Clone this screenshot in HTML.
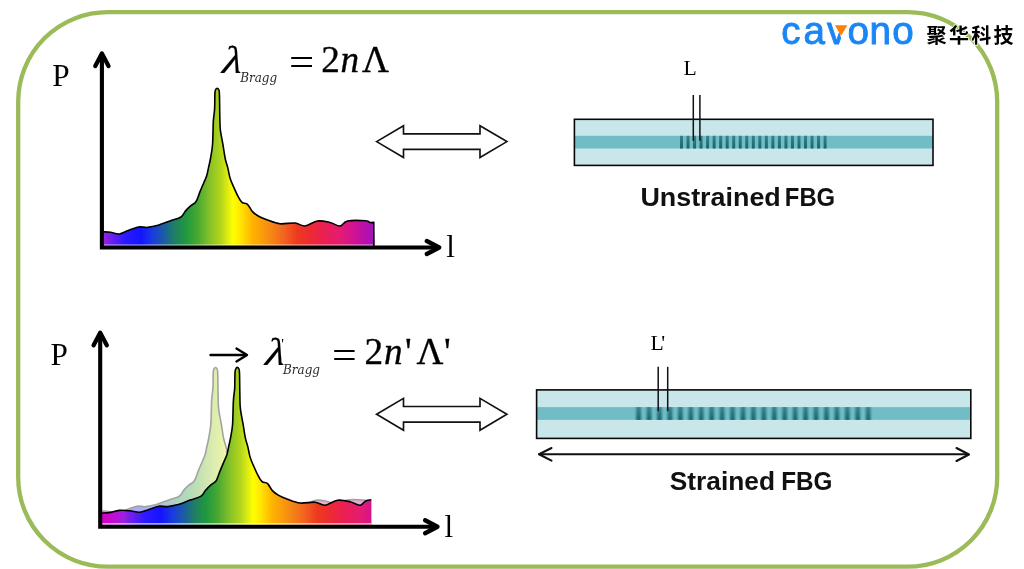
<!DOCTYPE html>
<html lang="zh">
<head>
<meta charset="utf-8">
<title>FBG strain sensing principle</title>
<style>
html,body{margin:0;padding:0;background:#fff;}
body{width:1024px;height:569px;overflow:hidden;}
svg{display:block;}
</style>
</head>
<body>
<svg width="1024" height="569" viewBox="0 0 1024 569">
<defs>
<linearGradient id="g1" gradientUnits="userSpaceOnUse" x1="103.50" y1="0" x2="374.50" y2="0"><stop offset="0.0000" stop-color="#a020e0"/><stop offset="0.0166" stop-color="#7e20e8"/><stop offset="0.0793" stop-color="#2c1aff"/><stop offset="0.1384" stop-color="#1414ff"/><stop offset="0.1790" stop-color="#1a3ae0"/><stop offset="0.2196" stop-color="#1b5aa8"/><stop offset="0.2638" stop-color="#1f8060"/><stop offset="0.3081" stop-color="#229a3c"/><stop offset="0.3487" stop-color="#4aa832"/><stop offset="0.3893" stop-color="#82c028"/><stop offset="0.4336" stop-color="#b4d61c"/><stop offset="0.4594" stop-color="#e0ee10"/><stop offset="0.4779" stop-color="#ffff00"/><stop offset="0.5037" stop-color="#ffe800"/><stop offset="0.5480" stop-color="#ffb400"/><stop offset="0.6144" stop-color="#f58a14"/><stop offset="0.6697" stop-color="#f26020"/><stop offset="0.7140" stop-color="#ee3a1f"/><stop offset="0.7694" stop-color="#ec2838"/><stop offset="0.8247" stop-color="#e91e5a"/><stop offset="0.8727" stop-color="#e41c70"/><stop offset="0.9170" stop-color="#d4148e"/><stop offset="0.9576" stop-color="#bc10a8"/><stop offset="1.0000" stop-color="#a212bc"/></linearGradient>
<linearGradient id="g2" gradientUnits="userSpaceOnUse" x1="99.80" y1="0" x2="394.55" y2="0"><stop offset="0.0000" stop-color="#d800c4"/><stop offset="0.0339" stop-color="#c808cc"/><stop offset="0.0806" stop-color="#a020e0"/><stop offset="0.0958" stop-color="#7e20e8"/><stop offset="0.1535" stop-color="#2c1aff"/><stop offset="0.2078" stop-color="#1414ff"/><stop offset="0.2451" stop-color="#1a3ae0"/><stop offset="0.2824" stop-color="#1b5aa8"/><stop offset="0.3232" stop-color="#1f8060"/><stop offset="0.3639" stop-color="#229a3c"/><stop offset="0.4012" stop-color="#4aa832"/><stop offset="0.4385" stop-color="#82c028"/><stop offset="0.4792" stop-color="#b4d61c"/><stop offset="0.5030" stop-color="#e0ee10"/><stop offset="0.5199" stop-color="#ffff00"/><stop offset="0.5437" stop-color="#ffe800"/><stop offset="0.5844" stop-color="#ffb400"/><stop offset="0.6455" stop-color="#f58a14"/><stop offset="0.6964" stop-color="#f26020"/><stop offset="0.7371" stop-color="#ee3a1f"/><stop offset="0.7880" stop-color="#ec2838"/><stop offset="0.8388" stop-color="#e91e5a"/><stop offset="0.8830" stop-color="#e41c70"/><stop offset="0.9237" stop-color="#d4148e"/><stop offset="0.9610" stop-color="#bc10a8"/><stop offset="1.0000" stop-color="#a212bc"/></linearGradient>
<linearGradient id="stripe" x1="0" y1="0" x2="0" y2="1"><stop offset="0" stop-color="#34848d"/><stop offset="1" stop-color="#1a646e"/></linearGradient>
<clipPath id="clip2"><rect x="101.80" y="300" width="269.50" height="260"/></clipPath>
<clipPath id="vclip"><polygon points="824,20 834.6,20 842.6,46 824,46"/></clipPath>
<filter id="blur" x="-5%" y="-5%" width="110%" height="110%"><feGaussianBlur stdDeviation="0.9 0"/></filter>
</defs>
<rect width="1024" height="569" fill="#fff"/>
<rect x="18.2" y="12.1" width="979.0" height="554.6" rx="89.5" ry="89.5" fill="none" stroke="#9bbb59" stroke-width="4.3"/>
<path d="M103.6 231.8 C104.8 231.9 107.9 231.9 110.5 232.3 C113.1 232.7 116.4 234.3 119.3 234.0 C122.2 233.7 124.9 231.7 128.1 230.5 C131.3 229.3 135.5 227.5 138.7 227.0 C141.9 226.5 144.3 227.7 147.5 227.4 C150.7 227.1 154.2 226.4 158.0 225.3 C161.8 224.2 166.2 222.3 170.0 220.9 C173.8 219.5 178.4 218.7 181.0 217.0 C183.6 215.3 184.2 212.4 185.8 210.6 C187.4 208.8 188.9 207.4 190.6 205.9 C192.3 204.4 194.5 203.9 196.1 201.5 C197.7 199.1 198.7 194.8 200.0 191.6 C201.3 188.4 202.9 184.8 204.0 182.2 C205.1 179.6 205.9 178.5 206.7 175.8 C207.5 173.2 208.2 169.1 208.8 166.3 C209.4 163.5 209.8 162.6 210.4 159.0 C211.0 155.4 212.0 151.2 212.5 145.0 C213.0 138.8 213.0 127.5 213.3 121.5 C213.7 115.5 214.3 113.7 214.6 109.0 C214.9 104.3 214.7 96.7 214.9 93.4 C215.1 90.1 215.4 90.3 215.8 89.4 C216.2 88.5 216.7 88.2 217.2 88.2 C217.7 88.2 218.2 88.5 218.6 89.4 C219.0 90.3 219.2 88.8 219.4 93.4 C219.6 98.0 219.7 111.0 219.8 117.0 C220.0 123.0 219.8 124.7 220.3 129.4 C220.8 134.1 222.2 140.1 223.0 145.0 C223.8 149.9 224.5 155.2 225.3 159.0 C226.1 162.8 227.0 164.7 227.8 167.9 C228.6 171.1 229.2 175.2 230.1 178.2 C231.0 181.2 232.0 183.1 233.3 186.1 C234.6 189.1 236.6 193.7 238.0 196.4 C239.4 199.1 240.4 201.1 242.0 202.4 C243.6 203.7 245.8 202.8 247.5 204.3 C249.2 205.8 250.5 209.4 252.3 211.4 C254.2 213.4 256.1 214.8 258.6 216.2 C261.1 217.6 263.9 218.7 267.5 220.0 C271.1 221.3 275.4 223.2 280.0 223.8 C284.6 224.2 290.8 222.6 295.0 223.0 C299.2 223.4 301.2 226.3 305.0 226.0 C308.8 225.7 313.3 221.6 317.5 221.0 C321.7 220.4 326.2 221.7 330.0 222.5 C333.8 223.3 337.1 226.2 340.0 226.0 C342.9 225.8 343.2 221.9 347.5 221.0 C351.8 220.1 362.2 220.5 366.0 220.8 C369.8 221.0 368.7 222.2 370.0 222.5 C371.3 222.8 373.2 222.3 373.8 222.3 L374.5 245.8 L103.6 245.8 Z" fill="url(#g1)"/>
<rect x="103.5" y="244.4" width="271" height="1.5" fill="#fff" opacity="0.55"/>
<path d="M103.6 231.8 C104.8 231.9 107.9 231.9 110.5 232.3 C113.1 232.7 116.4 234.3 119.3 234.0 C122.2 233.7 124.9 231.7 128.1 230.5 C131.3 229.3 135.5 227.5 138.7 227.0 C141.9 226.5 144.3 227.7 147.5 227.4 C150.7 227.1 154.2 226.4 158.0 225.3 C161.8 224.2 166.2 222.3 170.0 220.9 C173.8 219.5 178.4 218.7 181.0 217.0 C183.6 215.3 184.2 212.4 185.8 210.6 C187.4 208.8 188.9 207.4 190.6 205.9 C192.3 204.4 194.5 203.9 196.1 201.5 C197.7 199.1 198.7 194.8 200.0 191.6 C201.3 188.4 202.9 184.8 204.0 182.2 C205.1 179.6 205.9 178.5 206.7 175.8 C207.5 173.2 208.2 169.1 208.8 166.3 C209.4 163.5 209.8 162.6 210.4 159.0 C211.0 155.4 212.0 151.2 212.5 145.0 C213.0 138.8 213.0 127.5 213.3 121.5 C213.7 115.5 214.3 113.7 214.6 109.0 C214.9 104.3 214.7 96.7 214.9 93.4 C215.1 90.1 215.4 90.3 215.8 89.4 C216.2 88.5 216.7 88.2 217.2 88.2 C217.7 88.2 218.2 88.5 218.6 89.4 C219.0 90.3 219.2 88.8 219.4 93.4 C219.6 98.0 219.7 111.0 219.8 117.0 C220.0 123.0 219.8 124.7 220.3 129.4 C220.8 134.1 222.2 140.1 223.0 145.0 C223.8 149.9 224.5 155.2 225.3 159.0 C226.1 162.8 227.0 164.7 227.8 167.9 C228.6 171.1 229.2 175.2 230.1 178.2 C231.0 181.2 232.0 183.1 233.3 186.1 C234.6 189.1 236.6 193.7 238.0 196.4 C239.4 199.1 240.4 201.1 242.0 202.4 C243.6 203.7 245.8 202.8 247.5 204.3 C249.2 205.8 250.5 209.4 252.3 211.4 C254.2 213.4 256.1 214.8 258.6 216.2 C261.1 217.6 263.9 218.7 267.5 220.0 C271.1 221.3 275.4 223.2 280.0 223.8 C284.6 224.2 290.8 222.6 295.0 223.0 C299.2 223.4 301.2 226.3 305.0 226.0 C308.8 225.7 313.3 221.6 317.5 221.0 C321.7 220.4 326.2 221.7 330.0 222.5 C333.8 223.3 337.1 226.2 340.0 226.0 C342.9 225.8 343.2 221.9 347.5 221.0 C351.8 220.1 362.2 220.5 366.0 220.8 C369.8 221.0 368.7 222.2 370.0 222.5 C371.3 222.8 373.2 222.3 373.8 222.3 L373.8 245.8" fill="none" stroke="#000" stroke-width="1.6" stroke-linejoin="round" stroke-linecap="round"/>
<g transform="translate(0.00 0.00)" fill="none" stroke="#000" stroke-width="4.1" stroke-linecap="round" stroke-linejoin="round"><path d="M101.9 54 V247.5 H438" stroke-linecap="butt" stroke-linejoin="miter"/><path d="M95.3 66.0 L101.9 53.5 L108.5 66.0" stroke-width="4.3"/><path d="M426.8 241.0 L439.2 247.5 L426.8 254.0" stroke-width="4.3"/></g>
<g clip-path="url(#clip2)"><g opacity="0.36" transform="translate(-1.70 279.25)"><path d="M103.6 231.8 C104.8 231.9 107.9 231.9 110.5 232.3 C113.1 232.7 116.4 234.3 119.3 234.0 C122.2 233.7 124.9 231.7 128.1 230.5 C131.3 229.3 135.5 227.5 138.7 227.0 C141.9 226.5 144.3 227.7 147.5 227.4 C150.7 227.1 154.2 226.4 158.0 225.3 C161.8 224.2 166.2 222.3 170.0 220.9 C173.8 219.5 178.4 218.7 181.0 217.0 C183.6 215.3 184.2 212.4 185.8 210.6 C187.4 208.8 188.9 207.4 190.6 205.9 C192.3 204.4 194.5 203.9 196.1 201.5 C197.7 199.1 198.7 194.8 200.0 191.6 C201.3 188.4 202.9 184.8 204.0 182.2 C205.1 179.6 205.9 178.5 206.7 175.8 C207.5 173.2 208.2 169.1 208.8 166.3 C209.4 163.5 209.8 162.6 210.4 159.0 C211.0 155.4 212.0 151.2 212.5 145.0 C213.0 138.8 213.0 127.5 213.3 121.5 C213.7 115.5 214.3 113.7 214.6 109.0 C214.9 104.3 214.7 96.7 214.9 93.4 C215.1 90.1 215.4 90.3 215.8 89.4 C216.2 88.5 216.7 88.2 217.2 88.2 C217.7 88.2 218.2 88.5 218.6 89.4 C219.0 90.3 219.2 88.8 219.4 93.4 C219.6 98.0 219.7 111.0 219.8 117.0 C220.0 123.0 219.8 124.7 220.3 129.4 C220.8 134.1 222.2 140.1 223.0 145.0 C223.8 149.9 224.5 155.2 225.3 159.0 C226.1 162.8 227.0 164.7 227.8 167.9 C228.6 171.1 229.2 175.2 230.1 178.2 C231.0 181.2 232.0 183.1 233.3 186.1 C234.6 189.1 236.6 193.7 238.0 196.4 C239.4 199.1 240.4 201.1 242.0 202.4 C243.6 203.7 245.8 202.8 247.5 204.3 C249.2 205.8 250.5 209.4 252.3 211.4 C254.2 213.4 256.1 214.8 258.6 216.2 C261.1 217.6 263.9 218.7 267.5 220.0 C271.1 221.3 275.4 223.2 280.0 223.8 C284.6 224.2 290.8 222.6 295.0 223.0 C299.2 223.4 301.2 226.3 305.0 226.0 C308.8 225.7 313.3 221.6 317.5 221.0 C321.7 220.4 326.2 221.7 330.0 222.5 C333.8 223.3 337.1 226.2 340.0 226.0 C342.9 225.8 343.2 221.9 347.5 221.0 C351.8 220.1 362.2 220.5 366.0 220.8 C369.8 221.0 368.7 222.2 370.0 222.5 C371.3 222.8 373.2 222.3 373.8 222.3 L374.5 245.8 L103.6 245.8 Z" fill="url(#g1)"/><path d="M103.6 231.8 C104.8 231.9 107.9 231.9 110.5 232.3 C113.1 232.7 116.4 234.3 119.3 234.0 C122.2 233.7 124.9 231.7 128.1 230.5 C131.3 229.3 135.5 227.5 138.7 227.0 C141.9 226.5 144.3 227.7 147.5 227.4 C150.7 227.1 154.2 226.4 158.0 225.3 C161.8 224.2 166.2 222.3 170.0 220.9 C173.8 219.5 178.4 218.7 181.0 217.0 C183.6 215.3 184.2 212.4 185.8 210.6 C187.4 208.8 188.9 207.4 190.6 205.9 C192.3 204.4 194.5 203.9 196.1 201.5 C197.7 199.1 198.7 194.8 200.0 191.6 C201.3 188.4 202.9 184.8 204.0 182.2 C205.1 179.6 205.9 178.5 206.7 175.8 C207.5 173.2 208.2 169.1 208.8 166.3 C209.4 163.5 209.8 162.6 210.4 159.0 C211.0 155.4 212.0 151.2 212.5 145.0 C213.0 138.8 213.0 127.5 213.3 121.5 C213.7 115.5 214.3 113.7 214.6 109.0 C214.9 104.3 214.7 96.7 214.9 93.4 C215.1 90.1 215.4 90.3 215.8 89.4 C216.2 88.5 216.7 88.2 217.2 88.2 C217.7 88.2 218.2 88.5 218.6 89.4 C219.0 90.3 219.2 88.8 219.4 93.4 C219.6 98.0 219.7 111.0 219.8 117.0 C220.0 123.0 219.8 124.7 220.3 129.4 C220.8 134.1 222.2 140.1 223.0 145.0 C223.8 149.9 224.5 155.2 225.3 159.0 C226.1 162.8 227.0 164.7 227.8 167.9 C228.6 171.1 229.2 175.2 230.1 178.2 C231.0 181.2 232.0 183.1 233.3 186.1 C234.6 189.1 236.6 193.7 238.0 196.4 C239.4 199.1 240.4 201.1 242.0 202.4 C243.6 203.7 245.8 202.8 247.5 204.3 C249.2 205.8 250.5 209.4 252.3 211.4 C254.2 213.4 256.1 214.8 258.6 216.2 C261.1 217.6 263.9 218.7 267.5 220.0 C271.1 221.3 275.4 223.2 280.0 223.8 C284.6 224.2 290.8 222.6 295.0 223.0 C299.2 223.4 301.2 226.3 305.0 226.0 C308.8 225.7 313.3 221.6 317.5 221.0 C321.7 220.4 326.2 221.7 330.0 222.5 C333.8 223.3 337.1 226.2 340.0 226.0 C342.9 225.8 343.2 221.9 347.5 221.0 C351.8 220.1 362.2 220.5 366.0 220.8 C369.8 221.0 368.7 222.2 370.0 222.5 C371.3 222.8 373.2 222.3 373.8 222.3 L373.8 245.8" fill="none" stroke="#000" stroke-width="1.6" stroke-linejoin="round" stroke-linecap="round"/></g></g>
<g clip-path="url(#clip2)"><path d="M101.9 513.0 C103.1 512.9 105.9 513.0 108.8 512.6 C111.7 512.2 115.8 510.7 119.3 510.4 C122.8 510.1 126.5 510.5 129.9 510.8 C133.3 511.1 136.6 512.4 139.6 512.2 C142.6 512.0 145.0 510.7 148.2 509.8 C151.3 508.8 155.5 506.8 158.8 506.2 C162.0 505.7 164.3 506.9 167.6 506.6 C170.8 506.4 174.3 505.6 178.1 504.6 C181.8 503.5 186.2 501.5 190.1 500.1 C193.9 498.8 198.4 498.0 201.1 496.2 C203.7 494.5 204.3 491.7 205.9 489.9 C207.5 488.0 208.9 486.7 210.7 485.1 C212.4 483.6 214.6 483.1 216.2 480.8 C217.7 478.4 218.7 474.1 220.1 470.9 C221.4 467.6 222.9 464.1 224.1 461.4 C225.2 458.8 225.9 457.7 226.8 455.1 C227.6 452.4 228.2 448.4 228.9 445.6 C229.5 442.8 229.8 441.8 230.5 438.2 C231.1 434.7 232.1 430.5 232.6 424.2 C233.0 418.0 233.0 406.8 233.4 400.8 C233.7 394.8 234.4 392.9 234.7 388.2 C234.9 383.6 234.8 375.9 235.0 372.6 C235.2 369.4 235.5 369.5 235.9 368.6 C236.2 367.8 236.8 367.4 237.2 367.4 C237.7 367.4 238.3 367.8 238.7 368.6 C239.0 369.5 239.2 368.0 239.5 372.6 C239.7 377.2 239.7 390.2 239.9 396.2 C240.0 402.2 239.8 404.0 240.4 408.6 C240.9 413.3 242.2 419.3 243.1 424.2 C243.9 429.2 244.6 434.4 245.4 438.2 C246.2 442.1 247.1 443.9 247.9 447.1 C248.7 450.3 249.2 454.4 250.2 457.4 C251.1 460.5 252.0 462.3 253.4 465.4 C254.7 468.4 256.6 472.9 258.1 475.6 C259.5 478.4 260.5 480.3 262.1 481.6 C263.6 483.0 265.8 482.1 267.6 483.6 C269.3 485.1 270.5 488.7 272.4 490.6 C274.2 492.6 276.1 494.0 278.7 495.4 C281.2 496.9 284.0 498.0 287.6 499.2 C291.1 500.5 295.5 502.5 300.1 503.0 C304.6 503.5 310.9 501.9 315.1 502.2 C319.2 502.6 321.3 505.6 325.1 505.2 C328.8 504.9 333.4 500.8 337.6 500.2 C341.7 499.7 346.3 500.9 350.1 501.8 C353.8 502.6 357.1 505.5 360.1 505.2 C363.0 505.0 363.2 501.1 367.6 500.2 C371.9 499.4 382.3 499.8 386.1 500.0 C389.8 500.2 388.8 501.5 390.1 501.8 C391.4 502.0 393.2 501.6 393.9 501.6 L414.6 525.0 L101.9 525.0 Z" fill="url(#g2)"/><path d="M101.9 513.0 C103.1 512.9 105.9 513.0 108.8 512.6 C111.7 512.2 115.8 510.7 119.3 510.4 C122.8 510.1 126.5 510.5 129.9 510.8 C133.3 511.1 136.6 512.4 139.6 512.2 C142.6 512.0 145.0 510.7 148.2 509.8 C151.3 508.8 155.5 506.8 158.8 506.2 C162.0 505.7 164.3 506.9 167.6 506.6 C170.8 506.4 174.3 505.6 178.1 504.6 C181.8 503.5 186.2 501.5 190.1 500.1 C193.9 498.8 198.4 498.0 201.1 496.2 C203.7 494.5 204.3 491.7 205.9 489.9 C207.5 488.0 208.9 486.7 210.7 485.1 C212.4 483.6 214.6 483.1 216.2 480.8 C217.7 478.4 218.7 474.1 220.1 470.9 C221.4 467.6 222.9 464.1 224.1 461.4 C225.2 458.8 225.9 457.7 226.8 455.1 C227.6 452.4 228.2 448.4 228.9 445.6 C229.5 442.8 229.8 441.8 230.5 438.2 C231.1 434.7 232.1 430.5 232.6 424.2 C233.0 418.0 233.0 406.8 233.4 400.8 C233.7 394.8 234.4 392.9 234.7 388.2 C234.9 383.6 234.8 375.9 235.0 372.6 C235.2 369.4 235.5 369.5 235.9 368.6 C236.2 367.8 236.8 367.4 237.2 367.4 C237.7 367.4 238.3 367.8 238.7 368.6 C239.0 369.5 239.2 368.0 239.5 372.6 C239.7 377.2 239.7 390.2 239.9 396.2 C240.0 402.2 239.8 404.0 240.4 408.6 C240.9 413.3 242.2 419.3 243.1 424.2 C243.9 429.2 244.6 434.4 245.4 438.2 C246.2 442.1 247.1 443.9 247.9 447.1 C248.7 450.3 249.2 454.4 250.2 457.4 C251.1 460.5 252.0 462.3 253.4 465.4 C254.7 468.4 256.6 472.9 258.1 475.6 C259.5 478.4 260.5 480.3 262.1 481.6 C263.6 483.0 265.8 482.1 267.6 483.6 C269.3 485.1 270.5 488.7 272.4 490.6 C274.2 492.6 276.1 494.0 278.7 495.4 C281.2 496.9 284.0 498.0 287.6 499.2 C291.1 500.5 295.5 502.5 300.1 503.0 C304.6 503.5 310.9 501.9 315.1 502.2 C319.2 502.6 321.3 505.6 325.1 505.2 C328.8 504.9 333.4 500.8 337.6 500.2 C341.7 499.7 346.3 500.9 350.1 501.8 C353.8 502.6 357.1 505.5 360.1 505.2 C363.0 505.0 363.2 501.1 367.6 500.2 C371.9 499.4 382.3 499.8 386.1 500.0 C389.8 500.2 388.8 501.5 390.1 501.8 C391.4 502.0 393.2 501.6 393.9 501.6 L413.9 525.0" fill="none" stroke="#000" stroke-width="1.6" stroke-linejoin="round" stroke-linecap="round"/></g>
<rect x="101.80" y="523.15" width="269.50" height="1.7" fill="#fff" opacity="0.7"/>
<g transform="translate(-1.70 279.25)" fill="none" stroke="#000" stroke-width="4.1" stroke-linecap="round" stroke-linejoin="round"><path d="M101.9 54 V247.5 H438" stroke-linecap="butt" stroke-linejoin="miter"/><path d="M95.3 66.0 L101.9 53.5 L108.5 66.0" stroke-width="4.3"/><path d="M426.8 241.0 L439.2 247.5 L426.8 254.0" stroke-width="4.3"/></g>
<text x="52.30" y="85.90" font-family="'Liberation Serif', 'Times New Roman', serif" font-size="31.20" >P</text>
<text x="50.60" y="365.10" font-family="'Liberation Serif', 'Times New Roman', serif" font-size="31.20" >P</text>
<text x="446.30" y="257.40" font-family="'Liberation Serif', 'Times New Roman', serif" font-size="31.00" >l</text>
<text x="444.60" y="536.60" font-family="'Liberation Serif', 'Times New Roman', serif" font-size="31.00" >l</text>
<g transform="translate(221.40 72.50) skewX(-6.5) scale(1.24 1.04)"><text x="0" y="0" font-family="'Liberation Serif', 'Times New Roman', serif" font-size="37.2" font-style="italic" stroke="#000" stroke-width="0.1">λ</text></g>
<text x="240.20" y="81.60" font-family="'DejaVu Serif Condensed', 'DejaVu Serif', 'Liberation Serif', serif" font-size="12.40" font-style="italic" textLength="37" lengthAdjust="spacingAndGlyphs" fill="#2a2a2a">Bragg</text>
<g transform="translate(288.9 75.2) scale(1.2 1)"><text x="0.00" y="0.00" font-family="'Liberation Serif', 'Times New Roman', serif" font-size="37.20" >=</text></g>
<text x="321.30" y="71.70" font-family="'Liberation Serif', 'Times New Roman', serif" font-size="37.20" stroke="#000" stroke-width="0.35">2</text>
<text x="340.60" y="71.70" font-family="'Liberation Serif', 'Times New Roman', serif" font-size="37.20" font-style="italic" stroke="#000" stroke-width="0.35">n</text>
<text x="362.00" y="71.70" font-family="'Liberation Serif', 'Times New Roman', serif" font-size="37.20" stroke="#000" stroke-width="0.35">Λ</text>
<g transform="translate(264.60 365.20) skewX(-6.5) scale(1.24 1.04)"><text x="0" y="0" font-family="'Liberation Serif', 'Times New Roman', serif" font-size="37.2" font-style="italic" stroke="#000" stroke-width="0.1">λ</text></g>
<text x="281.30" y="349.30" font-family="'Liberation Serif', 'Times New Roman', serif" font-size="15.00" >'</text>
<text x="283.00" y="374.10" font-family="'DejaVu Serif Condensed', 'DejaVu Serif', 'Liberation Serif', serif" font-size="12.40" font-style="italic" textLength="37" lengthAdjust="spacingAndGlyphs" fill="#2a2a2a">Bragg</text>
<g transform="translate(331.9 367.70) scale(1.18 1)"><text x="0.00" y="0.00" font-family="'Liberation Serif', 'Times New Roman', serif" font-size="37.20" >=</text></g>
<text x="364.60" y="364.30" font-family="'Liberation Serif', 'Times New Roman', serif" font-size="37.20" stroke="#000" stroke-width="0.35">2</text>
<text x="384.00" y="364.30" font-family="'Liberation Serif', 'Times New Roman', serif" font-size="37.20" font-style="italic" stroke="#000" stroke-width="0.35">n</text>
<text x="404.90" y="364.30" font-family="'Liberation Serif', 'Times New Roman', serif" font-size="37.20" stroke="#000" stroke-width="0.35">'</text>
<text x="416.60" y="364.30" font-family="'Liberation Serif', 'Times New Roman', serif" font-size="37.20" stroke="#000" stroke-width="0.35">Λ</text>
<text x="443.90" y="364.30" font-family="'Liberation Serif', 'Times New Roman', serif" font-size="37.20" stroke="#000" stroke-width="0.35">'</text>
<g fill="none" stroke="#000" stroke-width="2.4" stroke-linecap="round" stroke-linejoin="round"><path d="M210.5 355 H246"/><path d="M236.5 348.6 L247 355 L236.5 361.4"/></g>
<polygon points="376.6,141.6 403.5,125.7 403.5,133.8 480.0,133.8 480.0,125.7 506.9,141.6 480.0,157.5 480.0,149.4 403.5,149.4 403.5,157.5" fill="#fff" stroke="#111" stroke-width="1.65" stroke-linejoin="miter"/>
<polygon points="376.6,414.3 403.5,398.4 403.5,406.5 480.0,406.5 480.0,398.4 506.9,414.3 480.0,430.2 480.0,422.1 403.5,422.1 403.5,430.2" fill="#fff" stroke="#111" stroke-width="1.65" stroke-linejoin="miter"/>
<rect x="574.4" y="119.3" width="358.6" height="46.1" fill="#c9e7eb"/><rect x="574.4" y="135.8" width="358.6" height="12.7" fill="#72bdc5"/><g fill="url(#stripe)"><rect x="680.00" y="135.8" width="3.00" height="12.7"/><rect x="686.53" y="135.8" width="3.00" height="12.7"/><rect x="693.05" y="135.8" width="3.00" height="12.7"/><rect x="699.58" y="135.8" width="3.00" height="12.7"/><rect x="706.11" y="135.8" width="3.00" height="12.7"/><rect x="712.64" y="135.8" width="3.00" height="12.7"/><rect x="719.16" y="135.8" width="3.00" height="12.7"/><rect x="725.69" y="135.8" width="3.00" height="12.7"/><rect x="732.22" y="135.8" width="3.00" height="12.7"/><rect x="738.75" y="135.8" width="3.00" height="12.7"/><rect x="745.27" y="135.8" width="3.00" height="12.7"/><rect x="751.80" y="135.8" width="3.00" height="12.7"/><rect x="758.33" y="135.8" width="3.00" height="12.7"/><rect x="764.85" y="135.8" width="3.00" height="12.7"/><rect x="771.38" y="135.8" width="3.00" height="12.7"/><rect x="777.91" y="135.8" width="3.00" height="12.7"/><rect x="784.44" y="135.8" width="3.00" height="12.7"/><rect x="790.96" y="135.8" width="3.00" height="12.7"/><rect x="797.49" y="135.8" width="3.00" height="12.7"/><rect x="804.02" y="135.8" width="3.00" height="12.7"/><rect x="810.55" y="135.8" width="3.00" height="12.7"/><rect x="817.07" y="135.8" width="3.00" height="12.7"/><rect x="823.60" y="135.8" width="3.00" height="12.7"/></g><rect x="574.4" y="119.3" width="358.6" height="46.1" fill="none" stroke="#080808" stroke-width="1.6"/>
<rect x="536.6" y="389.9" width="434.2" height="48.5" fill="#c9e7eb"/><rect x="536.6" y="407.1" width="434.2" height="12.8" fill="#72bdc5"/><g fill="url(#stripe)" filter="url(#blur)"><rect x="636.20" y="407.1" width="4.80" height="12.8"/><rect x="646.64" y="407.1" width="4.80" height="12.8"/><rect x="657.07" y="407.1" width="4.80" height="12.8"/><rect x="667.51" y="407.1" width="4.80" height="12.8"/><rect x="677.95" y="407.1" width="4.80" height="12.8"/><rect x="688.38" y="407.1" width="4.80" height="12.8"/><rect x="698.82" y="407.1" width="4.80" height="12.8"/><rect x="709.25" y="407.1" width="4.80" height="12.8"/><rect x="719.69" y="407.1" width="4.80" height="12.8"/><rect x="730.13" y="407.1" width="4.80" height="12.8"/><rect x="740.56" y="407.1" width="4.80" height="12.8"/><rect x="751.00" y="407.1" width="4.80" height="12.8"/><rect x="761.44" y="407.1" width="4.80" height="12.8"/><rect x="771.87" y="407.1" width="4.80" height="12.8"/><rect x="782.31" y="407.1" width="4.80" height="12.8"/><rect x="792.75" y="407.1" width="4.80" height="12.8"/><rect x="803.18" y="407.1" width="4.80" height="12.8"/><rect x="813.62" y="407.1" width="4.80" height="12.8"/><rect x="824.05" y="407.1" width="4.80" height="12.8"/><rect x="834.49" y="407.1" width="4.80" height="12.8"/><rect x="844.93" y="407.1" width="4.80" height="12.8"/><rect x="855.36" y="407.1" width="4.80" height="12.8"/><rect x="865.80" y="407.1" width="4.80" height="12.8"/></g><rect x="536.6" y="389.9" width="434.2" height="48.5" fill="none" stroke="#080808" stroke-width="1.6"/>
<g stroke="#111" stroke-width="1.5"><path d="M693.3 95 V140.8"/><path d="M699.9 95 V140.8"/><path d="M658.2 366.8 V411.2"/><path d="M667.7 366.8 V411.2"/></g>
<text x="683.60" y="75.30" font-family="'Liberation Serif', 'Times New Roman', serif" font-size="21.60" >L</text>
<text x="650.40" y="349.70" font-family="'Liberation Serif', 'Times New Roman', serif" font-size="21.60" >L<tspan dx="-2.4">'</tspan></text>
<g fill="none" stroke="#111" stroke-width="2.1" stroke-linecap="round" stroke-linejoin="round"><path d="M539.5 454.3 H968"/><path d="M551.5 448 L539 454.3 L551.5 460.6"/><path d="M956.5 448 L969 454.5 L956.5 461"/></g>
<text y="205.6" font-family="'Liberation Sans', Arial, sans-serif" font-size="26" font-weight="bold" lengthAdjust="spacingAndGlyphs" fill="#111"><tspan x="640.4" textLength="140.4" lengthAdjust="spacingAndGlyphs">Unstrained</tspan> <tspan x="784.8" textLength="50.4" lengthAdjust="spacingAndGlyphs">FBG</tspan></text>
<text y="490.2" font-family="'Liberation Sans', Arial, sans-serif" font-size="26" font-weight="bold" lengthAdjust="spacingAndGlyphs" fill="#111"><tspan x="669.8" textLength="105.2" lengthAdjust="spacingAndGlyphs">Strained</tspan> <tspan x="781.2" textLength="51.2" lengthAdjust="spacingAndGlyphs">FBG</tspan></text>
<text x="781.2 803.4 827.0 847.6 869.4 892.2" y="44" font-family="'Liberation Sans', Arial, sans-serif" font-size="38.6" fill="#1a86f5" stroke="#1a86f5" stroke-width="0.9">cavono</text>
<polygon points="835.6,20 850,20 846.6,46 843.6,46" fill="#fff"/>
<polygon points="834.9,25.2 847.4,25.2 841.1,35.8" fill="#ff8000"/>
<text x="926.60" y="43.20" font-family="'Liberation Sans', 'Noto Sans CJK SC', sans-serif" font-size="20.00" font-weight="bold" letter-spacing="2.3" fill="#000" stroke="#fff" stroke-width="1.6" paint-order="stroke" stroke-linejoin="round">聚华科技</text>
</svg>
</body>
</html>
